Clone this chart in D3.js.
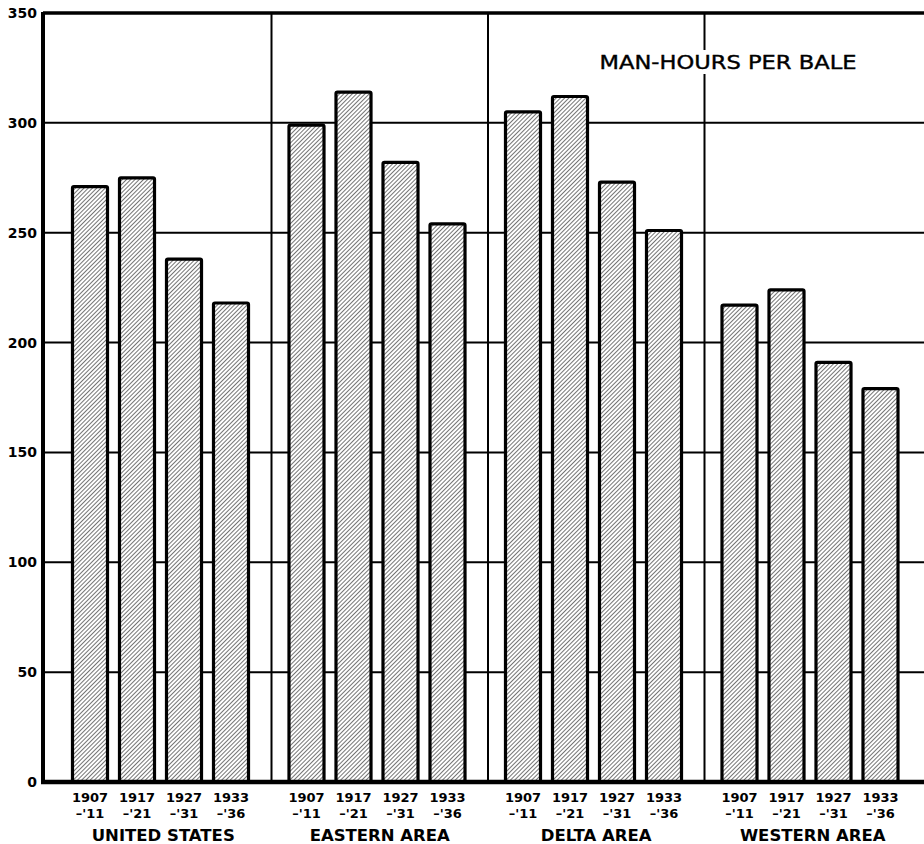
<!DOCTYPE html>
<html><head>
<meta charset="utf-8">
<script src="https://d3js.org/d3.v7.min.js"></script>
<style>
  body { margin: 0; background: #fff; }
  text { font-family: "DejaVu Sans", Arial, sans-serif; fill: #000; }
</style>
</head>
<body>
<svg id="chart" width="924" height="844"></svg>
<script>
// data
let areas = ["UNITED STATES", "EASTERN AREA", "DELTA AREA", "WESTERN AREA"];
let periodTop = ["1907", "1917", "1927", "1933"];
let periodBottom = ["\u2013'11", "\u2013'21", "\u2013'31", "\u2013'36"];
let usValues = [271, 275, 238, 218];
let easternValues = [299, 314, 282, 254];
let deltaValues = [305, 312, 273, 251];
let westernValues = [217, 224, 191, 179];
let yTicks = [0, 50, 100, 150, 200, 250, 300, 350];

let allValues = [usValues, easternValues, deltaValues, westernValues];

let svg = d3.select("#chart");
let plotLeft = 43, plotRight = 924, plotTop = 13, plotBottom = 782;

let y = d3.scaleLinear().domain([0, 350]).range([plotBottom, plotTop]);
let xGroup = d3.scaleBand().domain(areas).range([55, 921]);
let xBar = d3.scaleBand().domain(periodTop).range([11.5, 199.5])
    .paddingInner(0.255).paddingOuter(0.1275);

// hatch pattern for bars
let defs = svg.append("defs");
let pat = defs.append("pattern")
    .attr("id", "hatch")
    .attr("patternUnits", "userSpaceOnUse")
    .attr("width", 3).attr("height", 3)
    .attr("patternTransform", "rotate(45)");
pat.append("rect").attr("width", 3).attr("height", 3).attr("fill", "#fff");
pat.append("line")
    .attr("x1", 0).attr("y1", 0).attr("x2", 0).attr("y2", 3)
    .attr("stroke", "#2a2a2a").attr("stroke-width", 1.3);

// horizontal grid lines
svg.selectAll(".grid").data(yTicks.filter(d => d > 0 && d < 350)).enter()
  .append("line")
    .attr("x1", plotLeft).attr("x2", plotRight)
    .attr("y1", d => y(d)).attr("y2", d => y(d))
    .attr("stroke", "#000").attr("stroke-width", 2);

// group dividers
svg.selectAll(".divider").data(areas.slice(1)).enter()
  .append("line")
    .attr("x1", d => xGroup(d)).attr("x2", d => xGroup(d))
    .attr("y1", plotTop).attr("y2", plotBottom)
    .attr("stroke", "#000").attr("stroke-width", 2);

// frame: top, left
svg.append("line").attr("x1", plotLeft).attr("x2", plotRight).attr("y1", y(350)).attr("y2", y(350))
    .attr("stroke", "#000").attr("stroke-width", 3.5);
svg.append("line").attr("x1", plotLeft).attr("x2", plotLeft).attr("y1", plotTop - 1).attr("y2", plotBottom + 2)
    .attr("stroke", "#000").attr("stroke-width", 4);

// bars and labels
areas.forEach(function(area, i) {
  let g = svg.append("g").attr("transform", "translate(" + xGroup(area) + ",0)");
  g.selectAll("rect").data(allValues[i]).enter()
    .append("rect")
      .attr("x", (d, j) => xBar(periodTop[j]))
      .attr("y", d => y(d))
      .attr("width", xBar.bandwidth())
      .attr("height", d => plotBottom - y(d))
      .attr("fill", "url(#hatch)")
      .attr("stroke", "#000").attr("stroke-width", 3.2)
      .attr("rx", 1.5);

  g.selectAll(".p1").data(periodTop).enter()
    .append("text")
      .attr("x", d => xBar(d) + xBar.bandwidth() / 2)
      .attr("y", 802)
      .attr("text-anchor", "middle")
      .attr("font-size", 13).attr("font-weight", "bold")
      .text(d => d);
  g.selectAll(".p2").data(periodBottom).enter()
    .append("text")
      .attr("x", (d, j) => xBar(periodTop[j]) + xBar.bandwidth() / 2)
      .attr("y", 818)
      .attr("text-anchor", "middle")
      .attr("font-size", 13).attr("font-weight", "bold")
      .text(d => d);

  svg.append("text")
      .attr("x", xGroup(area) + xGroup.bandwidth() / 2)
      .attr("y", 841)
      .attr("text-anchor", "middle")
      .attr("font-size", 16.5).attr("font-weight", "bold")
      .text(area);
});

// bottom axis line
svg.append("line").attr("x1", plotLeft - 2).attr("x2", plotRight).attr("y1", plotBottom).attr("y2", plotBottom)
    .attr("stroke", "#000").attr("stroke-width", 4.5);

// y tick labels
svg.selectAll(".ytick").data(yTicks).enter()
  .append("text")
    .attr("x", 37)
    .attr("y", d => y(d) + 5)
    .attr("text-anchor", "end")
    .attr("font-size", 14).attr("font-weight", "bold")
    .text(d => d);

// title with white box behind it
let titleBox = svg.append("rect").attr("fill", "#fff");
let title = svg.append("text")
    .attr("x", 728).attr("y", 69)
    .attr("text-anchor", "middle")
    .attr("font-size", 19)
    .attr("stroke", "#000").attr("stroke-width", 0.4)
    .attr("textLength", 257).attr("lengthAdjust", "spacingAndGlyphs")
    .text("MAN-HOURS PER BALE");
let bb = title.node().getBBox();
titleBox
    .attr("x", bb.x - 4).attr("y", bb.y - 1)
    .attr("width", bb.width + 8).attr("height", bb.height + 2);
</script>
</body>
</html>
